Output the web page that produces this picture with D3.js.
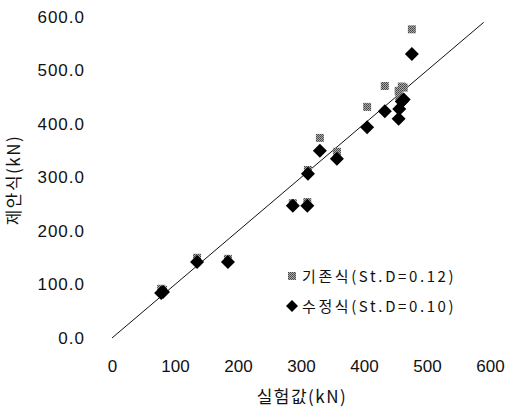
<!DOCTYPE html>
<html>
<head>
<meta charset="utf-8">
<script src="https://cdn.jsdelivr.net/npm/d3@7"></script>
<style>
body{margin:0;background:#fff;}
text{font-family:"Liberation Sans",Arial,sans-serif;fill:#111;}
.kr{font-family:"Noto Sans CJK KR","Liberation Sans",sans-serif;}
</style>
</head>
<body>
<div id="chart"></div>
<script>
// test values (experimental, kN)
var expVals = [78, 81, 135, 184, 287, 310, 311, 330, 357, 405, 433, 455, 456, 460, 463, 476];
// existing formula (기존식)
var oldVals = [92, 90, 150, 148, 252, 254, 314, 374, 348, 432, 471, 462, 450, 470, 468, 577];
// modified formula (수정식)
var newVals = [84, 86, 142, 142, 247, 247, 307, 350, 335, 394, 424, 410, 428, 442, 446, 531];
var xTicks = [0, 100, 200, 300, 400, 500, 600];
var yTicks = [0, 100, 200, 300, 400, 500, 600];
var legendLabels = ["기존식(St.D=0.12)", "수정식(St.D=0.10)"];

var w = 507, h = 408;
var svg = d3.select("#chart").append("svg")
    .attr("width", w).attr("height", h);

var x = d3.scaleLinear().domain([0, 600]).range([112, 490]);
var y = d3.scaleLinear().domain([0, 600]).range([338, 17]);

// dithered gray fill like the scan
var defs = svg.append("defs");
var pat = defs.append("pattern").attr("id", "dither")
    .attr("width", 2).attr("height", 2).attr("patternUnits", "userSpaceOnUse");
pat.append("rect").attr("width", 2).attr("height", 2).attr("fill", "#aaa");
pat.append("rect").attr("width", 1).attr("height", 1).attr("fill", "#444");
pat.append("rect").attr("x", 1).attr("y", 1).attr("width", 1).attr("height", 1).attr("fill", "#555");

// axes without lines, only labels
var xAxis = svg.append("g").attr("transform", "translate(0,360)")
    .call(d3.axisBottom(x).tickValues(xTicks).tickSize(0).tickPadding(0));
xAxis.select(".domain").remove();
xAxis.selectAll("text").style("font-size", "17px").attr("fill", "#111")
    .style("font-family", "Liberation Sans, Arial, sans-serif");

var yAxis = svg.append("g").attr("transform", "translate(85,0)")
    .call(d3.axisLeft(y).tickValues(yTicks).tickSize(0).tickPadding(0).tickFormat(d3.format(".1f")));
yAxis.select(".domain").remove();
yAxis.selectAll("text").style("font-size", "17px").style("letter-spacing", "1px")
    .attr("fill", "#111")
    .style("font-family", "Liberation Sans, Arial, sans-serif");

// 1:1 line
svg.append("line")
    .attr("x1", x(0)).attr("y1", y(0))
    .attr("x2", x(590)).attr("y2", y(590))
    .attr("stroke", "#111").attr("stroke-width", 1);

var sq = 8, dm = 7;
svg.append("g").selectAll("rect").data(expVals).enter().append("rect")
    .attr("x", (d, i) => x(d) - sq / 2)
    .attr("y", (d, i) => y(oldVals[i]) - sq / 2)
    .attr("width", sq).attr("height", sq)
    .attr("fill", "url(#dither)");

svg.append("g").selectAll("path").data(expVals).enter().append("path")
    .attr("d", (d, i) => "M" + x(d) + "," + (y(newVals[i]) - dm) +
        "L" + (x(d) + dm) + "," + y(newVals[i]) +
        "L" + x(d) + "," + (y(newVals[i]) + dm) +
        "L" + (x(d) - dm) + "," + y(newVals[i]) + "Z")
    .attr("fill", "#000");

// legend
var lg = svg.append("g");
lg.append("rect").attr("x", 288).attr("y", 272).attr("width", 8).attr("height", 8)
    .attr("fill", "url(#dither)");
lg.append("path").attr("d", "M292,300L298,306L292,312L286,306Z").attr("fill", "#000");
lg.selectAll("text").data(legendLabels).enter().append("text")
    .attr("class", "kr")
    .attr("x", 302).attr("y", (d, i) => 282 + i * 30)
    .style("font-size", "15px").style("letter-spacing", "2.6px")
    .text(d => d);

// axis titles
svg.append("text").attr("class", "kr")
    .attr("x", 302).attr("y", 403).attr("text-anchor", "middle")
    .style("font-size", "17px").style("letter-spacing", "1.5px").text("실험값(kN)");
svg.append("text").attr("class", "kr")
    .attr("transform", "translate(20,180) rotate(-90)")
    .attr("text-anchor", "middle")
    .style("font-size", "17px").style("letter-spacing", "1.5px").text("제안식(kN)");
</script>
</body>
</html>
